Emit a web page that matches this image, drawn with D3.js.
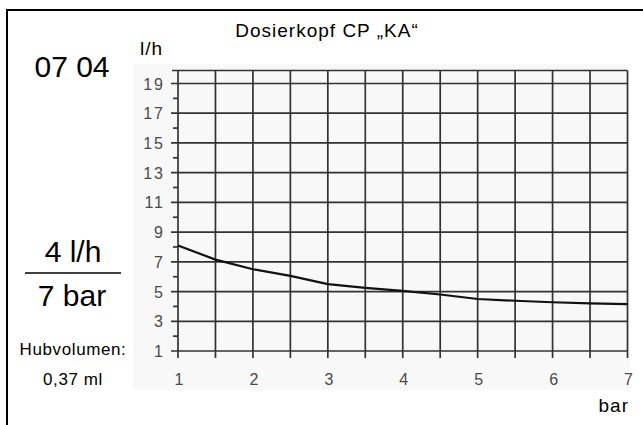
<!DOCTYPE html>
<html>
<head>
<meta charset="utf-8">
<script src="https://cdn.jsdelivr.net/npm/d3@7"></script>
<style>
  body { margin: 0; background: #fff; }
  svg { display: block; }
</style>
</head>
<body>
<svg id="chart" width="643" height="425"></svg>
<script>
// pressure (bar) vs. delivery rate (l/h)
const pressure = [1, 1.5, 2, 2.5, 3, 3.5, 4, 4.5, 5, 5.5, 6, 6.5, 7];
const flow = [8.1, 7.15, 6.5, 6.05, 5.5, 5.25, 5.05, 4.8, 4.5, 4.38, 4.28, 4.2, 4.15];

const xGrid = [1, 1.5, 2, 2.5, 3, 3.5, 4, 4.5, 5, 5.5, 6, 6.5, 7];
const xLabels = [1, 2, 3, 4, 5, 6, 7];
const yMajor = [1, 3, 5, 7, 9, 11, 13, 15, 17, 19];
const yMinor = [2, 4, 6, 8, 10, 12, 14, 16, 18];

const title = "Dosierkopf CP \u201EKA\u201C";
const code = "07 04";
const rate = "4 l/h";
const press = "7 bar";
const strokeLabel = "Hubvolumen:";
const strokeValue = "0,37 ml";

const svg = d3.select("#chart");

const x = d3.scaleLinear().domain([1, 7]).range([178, 627.5]);
const y = d3.scaleLinear().domain([1, 19]).range([351, 83.5]);
const plotTop = 70.5;

// outer frame (cut off at right / bottom)
svg.append("rect")
  .attr("x", 7).attr("y", 10)
  .attr("width", 700).attr("height", 500)
  .attr("fill", "none").attr("stroke", "#000").attr("stroke-width", 2);

// plot background
svg.append("rect")
  .attr("x", 133).attr("y", 64)
  .attr("width", 497).attr("height", 326)
  .attr("fill", "#f8f8f8");

const grid = svg.append("g")
  .attr("stroke", "#333")
  .attr("stroke-width", 1.7);

// vertical grid lines with small ticks below
grid.selectAll("line.v")
  .data(xGrid)
  .join("line")
  .attr("class", "v")
  .attr("x1", d => x(d)).attr("x2", d => x(d))
  .attr("y1", plotTop).attr("y2", y(1) + 7);

// horizontal grid lines at odd values
grid.selectAll("line.h")
  .data(yMajor)
  .join("line")
  .attr("class", "h")
  .attr("x1", x(1) - 7).attr("x2", x(7))
  .attr("y1", d => y(d)).attr("y2", d => y(d));

// top line
grid.append("line")
  .attr("x1", x(1) - 6).attr("x2", x(7))
  .attr("y1", plotTop).attr("y2", plotTop);

// minor ticks on y axis
grid.selectAll("line.m")
  .data(yMinor)
  .join("line")
  .attr("class", "m")
  .attr("x1", x(1) - 5).attr("x2", x(1))
  .attr("y1", d => y(d)).attr("y2", d => y(d));

// tick labels
const tickFont = { family: "Liberation Sans, Arial, sans-serif", size: 16 };

svg.append("g")
  .selectAll("text")
  .data(yMajor)
  .join("text")
  .attr("x", 165)
  .attr("y", d => y(d) + 6)
  .attr("text-anchor", "end")
  .attr("font-family", tickFont.family)
  .attr("font-size", tickFont.size)
  .attr("letter-spacing", 2)
  .attr("fill", "#4a4a4a")
  .text(d => d);

svg.append("g")
  .selectAll("text")
  .data(xLabels)
  .join("text")
  .attr("x", d => x(d) + 1)
  .attr("y", 385)
  .attr("text-anchor", "middle")
  .attr("font-family", tickFont.family)
  .attr("font-size", tickFont.size)
  .attr("fill", "#4a4a4a")
  .text(d => d);

// curve
const line = d3.line()
  .x((d, i) => x(pressure[i]))
  .y(d => y(d));

svg.append("path")
  .datum(flow)
  .attr("d", line)
  .attr("fill", "none")
  .attr("stroke", "#111")
  .attr("stroke-width", 2.2);

// texts
const font = "Liberation Sans, Arial, sans-serif";

svg.append("text")
  .attr("x", 327).attr("y", 37)
  .attr("text-anchor", "middle")
  .attr("font-family", font).attr("font-size", 19)
  .attr("letter-spacing", 1)
  .text(title);

svg.append("text")
  .attr("x", 140).attr("y", 55)
  .attr("font-family", font).attr("font-size", 19)
  .attr("letter-spacing", 1)
  .text("l/h");

svg.append("text")
  .attr("x", 629).attr("y", 412)
  .attr("text-anchor", "end")
  .attr("font-family", font).attr("font-size", 19)
  .attr("letter-spacing", 1)
  .text("bar");

svg.append("text")
  .attr("x", 72).attr("y", 77)
  .attr("text-anchor", "middle")
  .attr("font-family", font).attr("font-size", 30)
  .text(code);

svg.append("text")
  .attr("x", 73).attr("y", 262)
  .attr("text-anchor", "middle")
  .attr("font-family", font).attr("font-size", 30)
  .text(rate);

svg.append("line")
  .attr("x1", 25).attr("x2", 121)
  .attr("y1", 273).attr("y2", 273)
  .attr("stroke", "#000").attr("stroke-width", 1.5);

svg.append("text")
  .attr("x", 72).attr("y", 306)
  .attr("text-anchor", "middle")
  .attr("font-family", font).attr("font-size", 30)
  .text(press);

svg.append("text")
  .attr("x", 73).attr("y", 355)
  .attr("text-anchor", "middle")
  .attr("font-family", font).attr("font-size", 17)
  .attr("letter-spacing", 0.6)
  .text(strokeLabel);

svg.append("text")
  .attr("x", 73).attr("y", 385)
  .attr("text-anchor", "middle")
  .attr("font-family", font).attr("font-size", 17)
  .attr("letter-spacing", 0.6)
  .text(strokeValue);
</script>
</body>
</html>
